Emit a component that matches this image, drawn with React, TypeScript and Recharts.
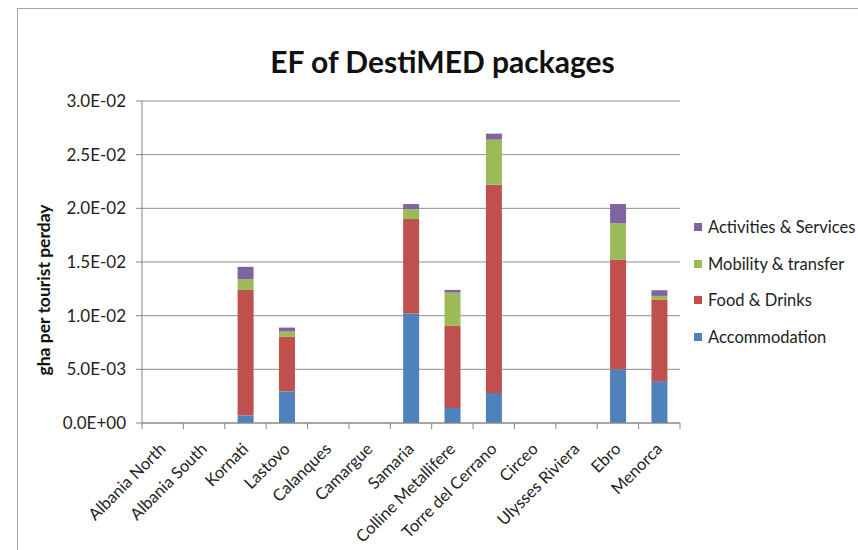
import React from "react";
import { BarChart, Bar, XAxis, YAxis, CartesianGrid } from "recharts";

const categories = [
  "Albania North",
  "Albania South",
  "Kornati",
  "Lastovo",
  "Calanques",
  "Camargue",
  "Samaria",
  "Colline Metallifere",
  "Torre del Cerrano",
  "Circeo",
  "Ulysses Riviera",
  "Ebro",
  "Menorca",
];

const accommodation = [0, 0, 0.0007, 0.00295, 0, 0, 0.0102, 0.0014, 0.0028, 0, 0, 0.005, 0.0039];
const foodDrinks = [0, 0, 0.0117, 0.00507, 0, 0, 0.0088, 0.00765, 0.0194, 0, 0, 0.0102, 0.0076];
const mobility = [0, 0, 0.001, 0.0005, 0, 0, 0.0009, 0.0031, 0.0042, 0, 0, 0.0034, 0.00034];
const activities = [0, 0, 0.00115, 0.00037, 0, 0, 0.0005, 0.00025, 0.00056, 0, 0, 0.0018, 0.00053];

const yTicks = [0, 0.005, 0.01, 0.015, 0.02, 0.025, 0.03];

const seriesInfo = [
  { key: "activities", name: "Activities & Services", color: "#8064A2" },
  { key: "mobility", name: "Mobility & transfer", color: "#9BBB59" },
  { key: "food", name: "Food & Drinks", color: "#C0504D" },
  { key: "accommodation", name: "Accommodation", color: "#4F81BD" },
];

const data = categories.map((c, i) => ({
  name: c,
  accommodation: accommodation[i],
  food: foodDrinks[i],
  mobility: mobility[i],
  activities: activities[i],
}));

const FONT = "Lato, 'Open Sans', sans-serif";

function fmtExp(v: number): string {
  if (v === 0) return "0.0E+00";
  const e = Math.floor(Math.log10(Math.abs(v)) + 1e-9);
  const m = v / Math.pow(10, e);
  const sign = e < 0 ? "-" : "+";
  const ae = Math.abs(e);
  return `${m.toFixed(1)}E${sign}${ae < 10 ? "0" + ae : ae}`;
}

const XTick = (props: any) => {
  const { x, y, payload, index } = props;
  const off = payload && typeof payload.offset === "number" ? payload.offset : 0;
  const axisY = y - 8;
  const isLast = index === categories.length - 1;
  return (
    <g>
      <line x1={x - off} x2={x - off} y1={axisY} y2={axisY + 6} stroke="#868686" />
      {isLast && <line x1={x + off} x2={x + off} y1={axisY} y2={axisY + 6} stroke="#868686" />}
      <g transform={`translate(${x + 4},${y + 19})`}>
        <text
          x={0}
          y={0}
          textAnchor="end"
          transform="rotate(-45)"
          fontSize={16.5}
          fontFamily={FONT}
          fill="#222"
        >
          {payload.value}
        </text>
      </g>
    </g>
  );
};

export default function App() {
  return (
    <div
      style={{
        position: "fixed",
        left: 0,
        top: 0,
        width: 858,
        height: 550,
        overflow: "hidden",
        background: "#fff",
      }}
    >
      <div
        style={{
          position: "absolute",
          left: 17,
          top: 8,
          width: 900,
          height: 600,
          border: "1px solid #a6a6a6",
          boxSizing: "border-box",
        }}
      />
      <div
        style={{
          position: "absolute",
          left: 0,
          width: 885,
          top: 43,
          textAlign: "center",
          fontFamily: FONT,
          fontWeight: 700,
          fontSize: 30,
          color: "#111",
          lineHeight: "36px",
        }}
      >
        EF of DestiMED packages
      </div>
      <div style={{ position: "absolute", left: 0, top: 0 }}>
        <BarChart
          width={858}
          height={550}
          data={data}
          margin={{ top: 101, right: 178, left: 0, bottom: 0 }}
          barCategoryGap="31%"
        >
          <CartesianGrid vertical={false} stroke="#8f8f8f" strokeWidth={1} />
          <XAxis
            dataKey="name"
            interval={0}
            height={127}
            tick={<XTick />}
            tickLine={false}
            tickSize={6}
            tickMargin={2}
            axisLine={{ stroke: "#868686" }}
          />
          <YAxis
            width={142}
            domain={[0, 0.03]}
            ticks={yTicks}
            tickFormatter={fmtExp}
            interval={0}
            tick={{ fontSize: 17, fontFamily: FONT, fill: "#222" }}
            tickLine={{ stroke: "#868686" }}
            tickSize={6}
            tickMargin={10}
            axisLine={{ stroke: "#868686" }}
            label={{
              content: () => (
                <text
                  x={50}
                  y={290}
                  transform="rotate(-90 50 290)"
                  textAnchor="middle"
                  fontSize={17.5}
                  fontWeight={700}
                  fontFamily={FONT}
                  fill="#111"
                >
                  gha per tourist perday
                </text>
              ),
            }}
          />
          <Bar dataKey="accommodation" name="Accommodation" stackId="a" fill="#4F81BD" isAnimationActive={false} />
          <Bar dataKey="food" name="Food & Drinks" stackId="a" fill="#C0504D" isAnimationActive={false} />
          <Bar dataKey="mobility" name="Mobility & transfer" stackId="a" fill="#9BBB59" isAnimationActive={false} />
          <Bar dataKey="activities" name="Activities & Services" stackId="a" fill="#8064A2" isAnimationActive={false} />
        </BarChart>
      </div>
      <div
        style={{
          position: "absolute",
          left: 694,
          top: 209,
          fontFamily: FONT,
          fontSize: 16.5,
          color: "#222",
        }}
      >
        {seriesInfo.map((s) => (
          <div key={s.key} style={{ display: "flex", alignItems: "center", height: 36.5 }}>
            <span
              style={{
                display: "inline-block",
                width: 8,
                height: 8,
                background: s.color,
                marginRight: 6,
              }}
            />
            <span style={{ whiteSpace: "nowrap" }}>{s.name}</span>
          </div>
        ))}
      </div>
    </div>
  );
}
